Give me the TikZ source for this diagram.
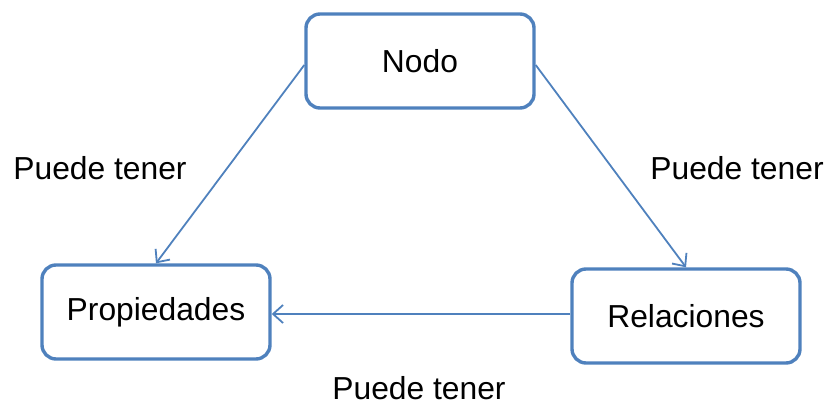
\documentclass[tikz,border=0pt]{standalone}
\usepackage{fontspec}
\setmainfont{Liberation Sans}
\usetikzlibrary{arrows.meta}
\definecolor{boxblue}{HTML}{4F81BD}

\begin{document}
\begin{tikzpicture} [x=0.5pt, y=-0.5pt]
    \tikzstyle{every node}=[align = center, font=\fontsize{15.9}{19}\selectfont]
    \tikzstyle{entity} = [draw=boxblue, line width=1.7pt, rounded corners=7pt, fill=white, minimum width=114pt, minimum height=47pt]
    \tikzstyle{rel} = [draw=boxblue, line width=0.9pt, -{Straight Barb[length=5pt, width=9pt]}]
    \useasboundingbox (0,0) rectangle (828,406);
    \node[entity] (nodo) at (420,61) {Nodo};
    \node[entity] (prop) at (156,312) {Propiedades};
    \node[entity] (relac) at (686,316) {Relaciones};
    \node (lblleft) at (100,168) {Puede tener};
    \node (lblright) at (737,168) {Puede tener};
    \node (lblbottom) at (419,388) {Puede tener};
    \draw[rel] ([yshift=-2pt]nodo.west) -- (prop.north);
    \draw[rel] ([yshift=-2pt]nodo.east) -- (relac.north);
    \draw[rel] ([yshift=1pt]relac.west) -- ([yshift=1pt]relac.west -| prop.east);
\end{tikzpicture}
\end{document}
